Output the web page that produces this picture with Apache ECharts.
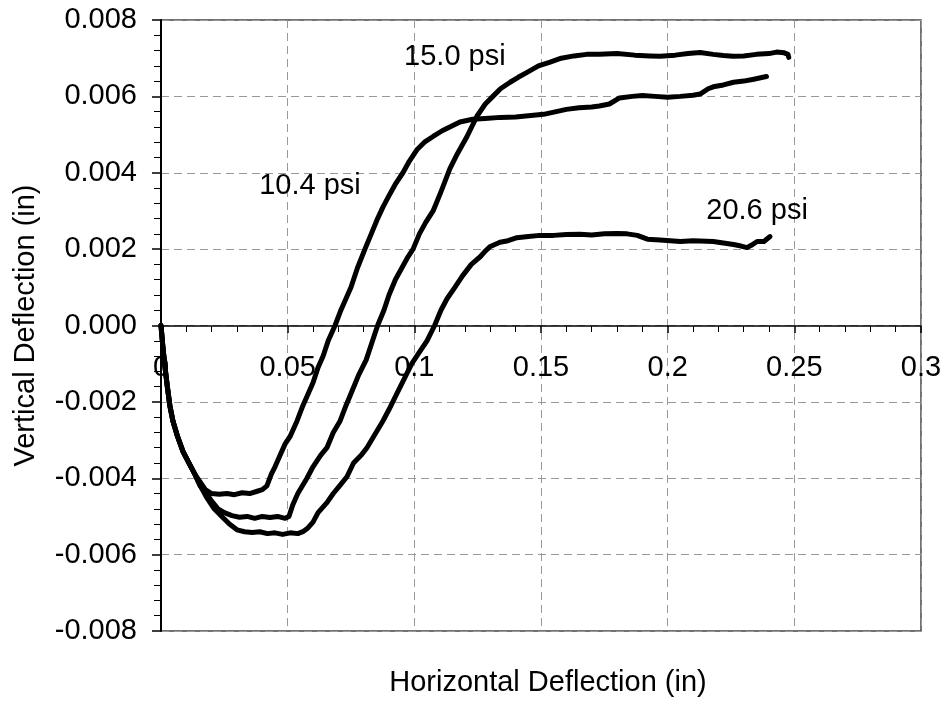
<!DOCTYPE html>
<html>
<head>
<meta charset="utf-8">
<title>Deflection</title>
<script src="https://cdn.jsdelivr.net/npm/echarts@6.0.0/dist/echarts.min.js"></script>
<style>
  html, body { margin: 0; padding: 0; background: #fff; }
  #main { width: 946px; height: 702px; }
</style>
</head>
<body>
<div id="main"></div>
<script>
// 10.4 psi  [horizontal, vertical]
const psi104 = [
  [0, 0], [0.0008, -0.0006], [0.0016, -0.0011], [0.0025, -0.0016], [0.0035, -0.0021], [0.0047, -0.0025],
  [0.0065, -0.0029], [0.0087, -0.0033], [0.011, -0.0036], [0.0134, -0.0039], [0.0155, -0.0041], [0.0175, -0.0043],
  [0.02, -0.0044], [0.023, -0.00442], [0.026, -0.0044], [0.029, -0.00443], [0.032, -0.00438], [0.035, -0.0044],
  [0.038, -0.00434], [0.040, -0.0043], [0.0418, -0.0042], [0.0435, -0.0039], [0.045, -0.0037], [0.047, -0.0034],
  [0.049, -0.0031], [0.051, -0.0029], [0.0537, -0.0025], [0.056, -0.0021], [0.058, -0.0018], [0.06, -0.0015],
  [0.062, -0.0011], [0.064, -0.0008], [0.066, -0.0004], [0.0687, 0], [0.071, 0.0004], [0.073, 0.0007],
  [0.075, 0.001], [0.0775, 0.0015], [0.0805, 0.002], [0.083, 0.0024], [0.0855, 0.0028], [0.0876, 0.0031],
  [0.09, 0.0034], [0.0925, 0.0037], [0.0955, 0.004], [0.098, 0.0043], [0.101, 0.0046], [0.104, 0.0048],
  [0.1074, 0.00495], [0.111, 0.0051], [0.114, 0.0052], [0.118, 0.00533], [0.123, 0.0054], [0.128, 0.00542],
  [0.134, 0.00545], [0.14, 0.00546], [0.146, 0.0055], [0.151, 0.00553], [0.156, 0.0056], [0.16, 0.00566],
  [0.165, 0.0057], [0.17, 0.00572], [0.173, 0.00575], [0.177, 0.0058], [0.181, 0.00596], [0.186, 0.006],
  [0.19, 0.00602], [0.195, 0.006], [0.2, 0.00598], [0.205, 0.006], [0.21, 0.00603], [0.2128, 0.00606],
  [0.216, 0.0062], [0.218, 0.00625], [0.222, 0.0063], [0.226, 0.00637], [0.23, 0.0064], [0.234, 0.00645],
  [0.2376, 0.0065], [0.239, 0.00652]
]

// 15.0 psi
const psi150 = [
  [0, 0], [0.0008, -0.0006], [0.0016, -0.0011], [0.0025, -0.0016], [0.0035, -0.0021], [0.0047, -0.0025],
  [0.0065, -0.0029], [0.0087, -0.0033], [0.011, -0.0036], [0.0134, -0.0039], [0.0155, -0.0042], [0.018, -0.0044],
  [0.02, -0.0046], [0.0225, -0.0048], [0.025, -0.0049], [0.028, -0.00498], [0.031, -0.00502], [0.034, -0.005],
  [0.037, -0.00505], [0.04, -0.005], [0.043, -0.00503], [0.046, -0.005], [0.049, -0.00505], [0.0505, -0.005],
  [0.052, -0.0047], [0.054, -0.0044], [0.0576, -0.004], [0.06, -0.0037], [0.063, -0.0034], [0.0655, -0.0032],
  [0.068, -0.0028], [0.0707, -0.0025], [0.073, -0.0021], [0.0755, -0.0017], [0.078, -0.0013], [0.081, -0.0009],
  [0.0835, -0.0004], [0.0855, 0], [0.088, 0.0004], [0.09, 0.0008], [0.0925, 0.0012], [0.095, 0.0015],
  [0.0975, 0.0018], [0.0995, 0.002], [0.102, 0.0024], [0.1045, 0.0027], [0.1074, 0.003], [0.1105, 0.0035],
  [0.114, 0.0041], [0.117, 0.0045], [0.1208, 0.00495], [0.1247, 0.00548], [0.128, 0.0058], [0.131, 0.006],
  [0.134, 0.0062], [0.1378, 0.00637], [0.141, 0.0065], [0.1445, 0.00663], [0.149, 0.0068], [0.1536, 0.0069],
  [0.158, 0.007], [0.163, 0.00706], [0.168, 0.0071], [0.173, 0.0071], [0.18, 0.00712], [0.187, 0.00708],
  [0.193, 0.00706], [0.197, 0.00705], [0.203, 0.00708], [0.208, 0.00712], [0.2128, 0.00715], [0.218, 0.0071],
  [0.222, 0.00707], [0.2258, 0.00705], [0.23, 0.00706], [0.235, 0.0071], [0.24, 0.00712], [0.243, 0.00716],
  [0.246, 0.00714], [0.2475, 0.0071], [0.2478, 0.00702]
]

// 20.6 psi
const psi206 = [
  [0, 0], [0.0008, -0.0006], [0.0016, -0.0011], [0.0025, -0.0016], [0.0035, -0.0021], [0.0047, -0.0025],
  [0.0065, -0.0029], [0.0087, -0.0033], [0.011, -0.0036], [0.0134, -0.0039], [0.0155, -0.0042], [0.018, -0.0045],
  [0.021, -0.0048], [0.024, -0.005], [0.027, -0.0052], [0.03, -0.00535], [0.033, -0.0054], [0.036, -0.00542],
  [0.039, -0.0054], [0.042, -0.00545], [0.045, -0.00543], [0.048, -0.00547], [0.051, -0.00543], [0.054, -0.00545],
  [0.056, -0.0054], [0.058, -0.0053], [0.06, -0.00515], [0.062, -0.0049], [0.0655, -0.00464], [0.068, -0.0044],
  [0.0705, -0.0042], [0.0734, -0.00396], [0.076, -0.0036], [0.079, -0.0034], [0.0813, -0.0032], [0.084, -0.0029],
  [0.0876, -0.0025], [0.09, -0.0022], [0.093, -0.0018], [0.096, -0.0014], [0.099, -0.001], [0.102, -0.0007],
  [0.105, -0.0004], [0.108, 0], [0.1105, 0.0004], [0.1129, 0.0007], [0.116, 0.001], [0.119, 0.0013],
  [0.1225, 0.0016], [0.126, 0.0018], [0.128, 0.00195], [0.13, 0.00207], [0.1338, 0.00218], [0.137, 0.00222],
  [0.1405, 0.0023], [0.145, 0.00233], [0.1496, 0.00236], [0.155, 0.00236], [0.16, 0.00238], [0.1654, 0.00239],
  [0.17, 0.00237], [0.175, 0.0024], [0.18, 0.00241], [0.184, 0.0024], [0.188, 0.00236], [0.192, 0.00226],
  [0.197, 0.00224], [0.205, 0.0022], [0.21, 0.00222], [0.218, 0.0022], [0.222, 0.00216], [0.226, 0.00212],
  [0.229, 0.00208], [0.2313, 0.00204], [0.233, 0.0021], [0.2353, 0.0022], [0.238, 0.0022], [0.2404, 0.00233]
]

// curve labels, placed in data units
const labelNames = ['15.0 psi', '10.4 psi', '20.6 psi']
const labelX = [0.116, 0.0588, 0.2353]
const labelY = [0.00702, 0.00364, 0.00299]

const FONT = '"Liberation Sans", Arial, sans-serif'
const FS = 29

const chart = echarts.init(document.getElementById('main'))

function curve(name, data) {
  return {
    name: name,
    type: 'line',
    data: data,
    showSymbol: false,
    symbol: 'none',
    smooth: false,
    lineStyle: { color: '#000', width: 5, cap: 'round', join: 'round' }
  }
}

chart.setOption({
  animation: false,
  textStyle: { fontFamily: FONT },
  grid: {
    left: 161,
    right: 25,
    top: 20,
    bottom: 71,
    show: true,
    borderColor: '#444',
    borderWidth: 1.5,
    outerBoundsMode: 'none'
  },
  xAxis: {
    type: 'value',
    min: 0,
    max: 0.3,
    interval: 0.05,
    // x axis sits at y = 0 (half way up the plot)
    offset: -305,
    name: 'Horizontal Deflection (in)',
    nameLocation: 'middle',
    nameGap: 342,
    nameMoveOverlap: false,
    nameTextStyle: { color: '#000', fontSize: FS, fontFamily: FONT, padding: [0, 0, 0, 14] },
    axisLine: { show: true, onZero: false, lineStyle: { color: '#000', width: 1.5 } },
    axisTick: { show: true, length: 7, lineStyle: { color: '#000', width: 1.5 } },
    minorTick: { show: true, splitNumber: 5, length: 6, lineStyle: { color: '#000', width: 1 } },
    axisLabel: { color: '#000', fontSize: FS, fontFamily: FONT, margin: 27, showMinLabel: true, showMaxLabel: true },
    splitLine: { show: true, lineStyle: { color: '#999', type: [8, 5], width: 1 } }
  },
  yAxis: {
    type: 'value',
    min: -0.008,
    max: 0.008,
    interval: 0.002,
    name: 'Vertical Deflection (in)',
    nameLocation: 'middle',
    nameGap: 121,
    nameTextStyle: { color: '#000', fontSize: FS, fontFamily: FONT },
    axisLine: { show: true, onZero: false, lineStyle: { color: '#000', width: 2 } },
    axisTick: { show: true, length: 9, lineStyle: { color: '#000', width: 1.5 } },
    minorTick: { show: true, splitNumber: 5, length: 7, lineStyle: { color: '#000', width: 1 } },
    axisLabel: {
      color: '#000',
      fontSize: FS,
      fontFamily: FONT,
      margin: 24,
      formatter: v => v.toFixed(3)
    },
    splitLine: { show: true, lineStyle: { color: '#999', type: [8, 5], width: 1 } }
  },
  series: [
    curve('10.4 psi', psi104),
    curve('15.0 psi', psi150),
    curve('20.6 psi', psi206),
    {
      type: 'scatter',
      symbolSize: 1,
      silent: true,
      itemStyle: { color: 'rgba(0,0,0,0)', opacity: 1 },
      data: labelNames.map((n, i) => ({ value: [labelX[i], labelY[i]], name: n })),
      label: {
        show: true,
        position: 'inside',
        formatter: p => p.name,
        color: '#000',
        opacity: 1,
        textBorderWidth: 0,
        fontSize: FS,
        fontFamily: FONT
      }
    }
  ]
})
</script>
</body>
</html>
